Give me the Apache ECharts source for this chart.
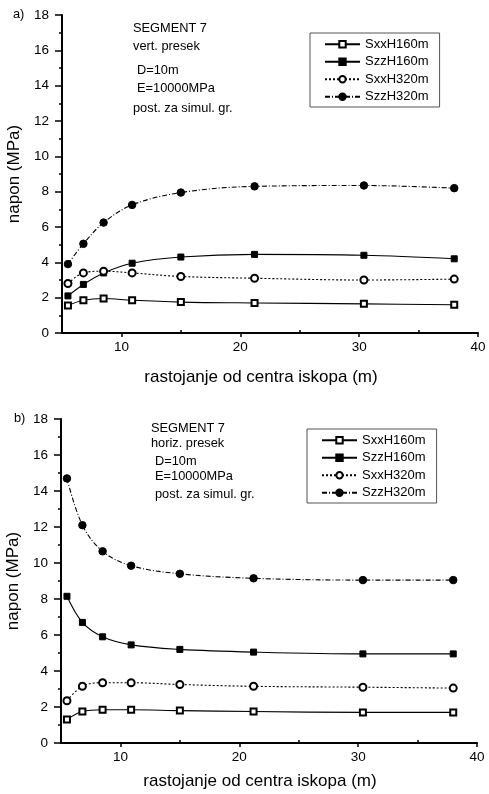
<!DOCTYPE html>
<html>
<head>
<meta charset="utf-8">
<script src="https://cdn.jsdelivr.net/npm/echarts@6/dist/echarts.min.js"></script>
<style>
html,body{margin:0;padding:0;background:#fff;}
#chart{width:489px;height:794px;}
</style>
</head>
<body>
<div id="chart"></div>
<script>
// distance from excavation centre (m)
var distances = [5.5, 6.8, 8.5, 10.9, 15, 21.2, 30.4, 38];
var seriesNames = ['SxxH160m', 'SzzH160m', 'SxxH320m', 'SzzH320m'];
// panel a) vertical section
var vertSxxH160 = [1.55, 1.85, 1.95, 1.85, 1.75, 1.7, 1.65, 1.6];
var vertSzzH160 = [2.1, 2.75, 3.4, 3.95, 4.3, 4.45, 4.4, 4.2];
var vertSxxH320 = [2.8, 3.4, 3.5, 3.4, 3.2, 3.1, 3.0, 3.05];
var vertSzzH320 = [3.9, 5.05, 6.25, 7.25, 7.95, 8.3, 8.35, 8.2];
// panel b) horizontal section
var horSxxH160 = [1.3, 1.75, 1.85, 1.85, 1.8, 1.75, 1.7, 1.7];
var horSzzH160 = [8.15, 6.7, 5.9, 5.45, 5.2, 5.05, 4.95, 4.95];
var horSxxH320 = [2.35, 3.15, 3.35, 3.35, 3.25, 3.15, 3.1, 3.05];
var horSzzH320 = [14.7, 12.1, 10.65, 9.85, 9.4, 9.15, 9.05, 9.05];
var xTickLabels = [10, 20, 30, 40];
var xMinorTicks = [15, 25, 35];

var FONT = '"Liberation Sans", Arial, sans-serif';
var styles = [
  {symbol: 'emptyRect', symbolSize: 6, type: 'solid'},
  {symbol: 'rect', symbolSize: 6, type: 'solid'},
  {symbol: 'emptyCircle', symbolSize: 7, type: [2, 2]},
  {symbol: 'circle', symbolSize: 7.5, type: [5, 2, 1, 2]}
];

function pairs(arr) { return arr.map(function (v, i) { return [distances[i], v]; }); }

function mkSeries(arrs, gi) {
  return arrs.map(function (arr, k) {
    return {
      name: seriesNames[k], type: 'line', xAxisIndex: gi * 2, yAxisIndex: gi,
      data: pairs(arr), smooth: 0.35, symbol: styles[k].symbol, symbolSize: styles[k].symbolSize,
      showAllSymbol: true,
      lineStyle: {color: '#000', width: 1.1, type: styles[k].type},
      itemStyle: {color: '#000', borderColor: '#000', borderWidth: 1},
      emphasis: {disabled: true}, animation: false, z: 3
    };
  });
}

function xMain(gi, gap) {
  return {
    type: 'value', gridIndex: gi, min: 5, max: 40, interval: 5,
    name: 'rastojanje od centra iskopa (m)', nameLocation: 'middle', nameGap: gap,
    nameTextStyle: {fontFamily: FONT, fontSize: 17, color: '#000', padding: [0, 18, 0, 0]},
    axisLine: {show: true, onZero: false, lineStyle: {color: '#000', width: 2}},
    axisTick: {show: true, inside: false, length: 4, lineStyle: {color: '#000', width: 1.5}, customValues: xTickLabels},
    axisLabel: {fontFamily: FONT, fontSize: 13.5, color: '#000', margin: 7, customValues: xTickLabels},
    splitLine: {show: false}
  };
}
function xMinor(gi) {
  return {
    type: 'value', gridIndex: gi, min: 5, max: 40, interval: 5, position: 'bottom',
    axisLine: {show: false, onZero: false},
    axisTick: {show: true, inside: true, length: 3, lineStyle: {color: '#000', width: 1.5}, customValues: xMinorTicks},
    axisLabel: {show: false}, splitLine: {show: false}
  };
}
function yAx(gi) {
  return {
    type: 'value', gridIndex: gi, min: 0, max: 18, interval: 2,
    name: 'napon (MPa)', nameLocation: 'middle', nameGap: 33,
    nameTextStyle: {fontFamily: FONT, fontSize: 17, color: '#000'},
    axisLine: {show: true, lineStyle: {color: '#000', width: 2}},
    axisTick: {show: true, length: 7, lineStyle: {color: '#000', width: 1.5}},
    minorTick: {show: true, splitNumber: 2, length: 3, lineStyle: {color: '#000', width: 1.5}},
    axisLabel: {fontFamily: FONT, fontSize: 13.5, color: '#000', margin: 13},
    splitLine: {show: false}
  };
}
function legend(left, top) {
  return {
    orient: 'vertical', left: left, top: top, data: seriesNames,
    itemWidth: 35, itemHeight: 8, itemGap: 3,
    padding: [4, 11, 3, 14],
    borderColor: '#555', borderWidth: 1, borderRadius: 0,
    textStyle: {fontFamily: FONT, fontSize: 13, color: '#000', lineHeight: 14.5},
    selectedMode: false
  };
}
function txt(x, y, s) {
  return {type: 'text', left: x, top: y, silent: true,
    style: {text: s, fontFamily: FONT, fontSize: 12.8, fill: '#000'}};
}

var chart = echarts.init(document.getElementById('chart'), null, {renderer: 'canvas'});
chart.setOption({
  animation: false,
  backgroundColor: '#fff',
  grid: [
    {left: 62, right: 11, top: 15, height: 318, containLabel: false, outerBoundsMode: 'none'},
    {left: 61, right: 12, top: 419, height: 324, containLabel: false, outerBoundsMode: 'none'}
  ],
  xAxis: [xMain(0, 36), xMinor(0), xMain(1, 30), xMinor(1)],
  yAxis: [yAx(0), yAx(1)],
  legend: [legend(310, 33), legend(307, 429)],
  series: mkSeries([vertSxxH160, vertSzzH160, vertSxxH320, vertSzzH320], 0)
    .concat(mkSeries([horSxxH160, horSzzH160, horSxxH320, horSzzH320], 1).map(function (s) { s.xAxisIndex = 2; return s; })),
  graphic: [
    txt(13, 8, 'a)'), txt(133, 22, 'SEGMENT 7'), txt(133, 40, 'vert. presek'),
    txt(137, 64, 'D=10m'), txt(137, 82, 'E=10000MPa'), txt(133, 102, 'post. za simul. gr.'),
    txt(14, 412, 'b)'), txt(151, 422, 'SEGMENT 7'), txt(151, 437, 'horiz. presek'),
    txt(155, 455, 'D=10m'), txt(155, 470, 'E=10000MPa'), txt(155, 488, 'post. za simul. gr.')
  ]
});
</script>
</body>
</html>
